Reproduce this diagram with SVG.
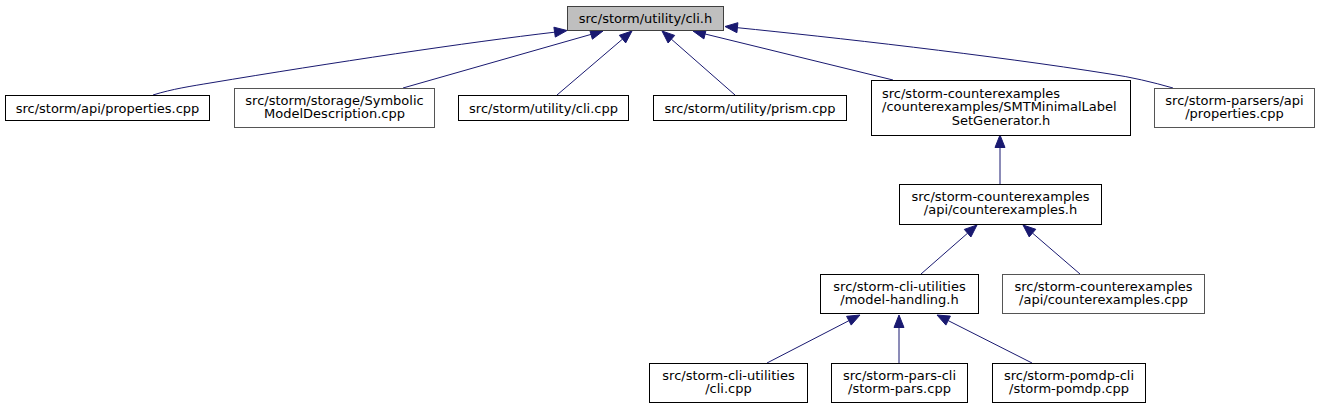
<svg xmlns="http://www.w3.org/2000/svg" width="1319" height="409" viewBox="0 0 1319 409">
<style>
.bg{fill:#ffffff}
.box{fill:#ffffff;stroke:#000000;stroke-width:1}
.boxg{fill:#ffffff;stroke:#555555;stroke-width:1}
.root{fill:#bfbfbf;stroke:#404040;stroke-width:1}
text{font-family:"DejaVu Sans",Verdana,sans-serif;font-size:13px;fill:#000000}
.m{text-anchor:middle}
.e{fill:none;stroke:#191970;stroke-width:1}
.a{fill:#191970;stroke:#191970;stroke-width:1}
</style>
<rect class="bg" x="0" y="0" width="1319" height="409"/>
<g id="connectors">
<path class="e" d="M153,95 C172,89 192,86 210,83 C330,63 470,42 554.6,32.2"/>
<polygon class="a" points="567,30.5 555.3,37.1 553.9,27.2"/>
<path class="e" d="M403,88 L591,34.4"/>
<polygon class="a" points="603,31 592.4,39.2 589.6,29.6"/>
<path class="e" d="M557,95 L622.5,39.1"/>
<polygon class="a" points="632,31 625.7,42.9 619.3,35.3"/>
<path class="e" d="M735,95 L671.4,39.2"/>
<polygon class="a" points="662,31 674.7,35.4 668.1,43"/>
<path class="e" d="M893,80 L705.1,34"/>
<polygon class="a" points="693,31 706.3,29.1 703.9,38.9"/>
<path class="e" d="M1173,88 C1152,82 1131,77 1110,74 C990,55 830,37 737.4,27.7"/>
<polygon class="a" points="725,26.5 737.9,22.7 736.9,32.7"/>
<path class="e" d="M1000,184 L1000,147.5"/>
<polygon class="a" points="1000,135 995,147.5 1005,147.5"/>
<path class="e" d="M921,274 L967.6,233.2"/>
<polygon class="a" points="977,225 970.9,237 964.3,229.4"/>
<path class="e" d="M1080,274 L1032.5,233.1"/>
<polygon class="a" points="1023,225 1035.8,229.3 1029.2,236.9"/>
<path class="e" d="M767,363 L848.9,320.7"/>
<polygon class="a" points="860,315 851.2,325.1 846.6,316.3"/>
<path class="e" d="M899,363 L899,327.5"/>
<polygon class="a" points="899,315 894,327.5 904,327.5"/>
<path class="e" d="M1032,363 L948.2,320.6"/>
<polygon class="a" points="937,315 950.4,316.1 945.9,325.1"/>
</g>
<g id="node-root">
<rect class="root" x="567.5" y="6.5" width="156" height="24"/>
<text class="m" x="645.5" y="23">src/storm/utility/cli.h</text>
</g>
<g id="node-api-properties">
<rect class="box" x="5.5" y="95.5" width="204" height="25"/>
<text class="m" x="107.5" y="112.5">src/storm/api/properties.cpp</text>
</g>
<g id="node-symbolic">
<rect class="boxg" x="234.5" y="88.5" width="200" height="39"/>
<text class="m" x="334.5" y="104.5">src/storm/storage/Symbolic</text>
<text class="m" x="334.5" y="118">ModelDescription.cpp</text>
</g>
<g id="node-utility-cli">
<rect class="box" x="458.5" y="95.5" width="170" height="25"/>
<text class="m" x="543.5" y="112.5">src/storm/utility/cli.cpp</text>
</g>
<g id="node-utility-prism">
<rect class="box" x="653.5" y="95.5" width="193" height="25"/>
<text class="m" x="750" y="112.5">src/storm/utility/prism.cpp</text>
</g>
<g id="node-smt">
<rect class="box" x="871.5" y="80.5" width="259" height="55"/>
<text x="882" y="97.5">src/storm-counterexamples</text>
<text x="882" y="111">/counterexamples/SMTMinimalLabel</text>
<text class="m" x="1001" y="124.5">SetGenerator.h</text>
</g>
<g id="node-parsers">
<rect class="boxg" x="1154.5" y="88.5" width="160" height="39"/>
<text class="m" x="1234.5" y="104.5">src/storm-parsers/api</text>
<text class="m" x="1234.5" y="118">/properties.cpp</text>
</g>
<g id="node-counterexamples-h">
<rect class="box" x="899.5" y="184.5" width="202" height="40"/>
<text class="m" x="1000.5" y="200.5">src/storm-counterexamples</text>
<text class="m" x="1000.5" y="214">/api/counterexamples.h</text>
</g>
<g id="node-model-handling">
<rect class="box" x="820.5" y="274.5" width="158" height="39"/>
<text class="m" x="899.5" y="290.5">src/storm-cli-utilities</text>
<text class="m" x="899.5" y="304">/model-handling.h</text>
</g>
<g id="node-counterexamples-cpp">
<rect class="boxg" x="1002.5" y="274.5" width="202" height="39"/>
<text class="m" x="1103.5" y="290.5">src/storm-counterexamples</text>
<text class="m" x="1103.5" y="304">/api/counterexamples.cpp</text>
</g>
<g id="node-cli-cpp">
<rect class="box" x="649.5" y="363.5" width="158" height="39"/>
<text class="m" x="728.5" y="379.5">src/storm-cli-utilities</text>
<text class="m" x="728.5" y="393">/cli.cpp</text>
</g>
<g id="node-storm-pars">
<rect class="box" x="831.5" y="363.5" width="136" height="39"/>
<text class="m" x="899.5" y="379.5">src/storm-pars-cli</text>
<text class="m" x="899.5" y="393">/storm-pars.cpp</text>
</g>
<g id="node-storm-pomdp">
<rect class="box" x="992.5" y="363.5" width="153" height="39"/>
<text class="m" x="1069" y="379.5">src/storm-pomdp-cli</text>
<text class="m" x="1069" y="393">/storm-pomdp.cpp</text>
</g>
</svg>
